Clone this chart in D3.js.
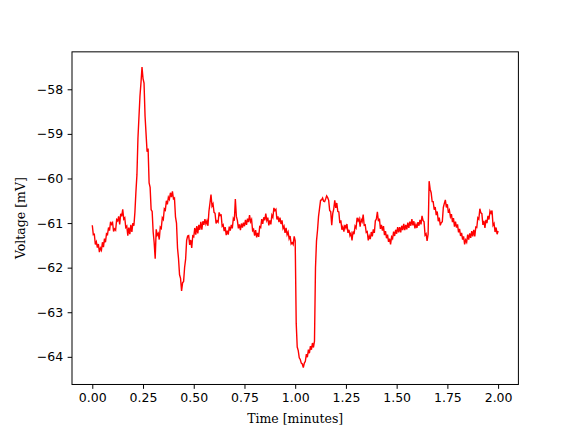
<!DOCTYPE html>
<html>
<head>
<meta charset="utf-8">
<script src="https://cdn.jsdelivr.net/npm/d3@7"></script>
<style>
  html, body { margin: 0; padding: 0; background: #fff; }
  svg { display: block; }
</style>
</head>
<body>
<svg id="chart" width="576" height="432"></svg>
<script>
// ---- data ----
const durationMinutes = 2;
const voltage = [
  -61.05, -61.26, -61.25, -61.48, -61.42, -61.55, -61.47, -61.65, -61.56, -61.61, -61.43,
  -61.54, -61.35, -61.43, -61.24, -61.26, -61.1, -61.17, -60.97, -61.03, -60.99,
  -61.19, -61.13, -61.16, -60.92, -60.95, -60.85, -61.03, -60.79, -60.85, -60.69,
  -60.91, -60.88, -61.1, -61.07, -61.28, -61.1, -61.25, -61.04, -61.2, -61.0, -61.06, -60.76,
  -60.3, -59.92, -59.1, -58.62, -58.15, -57.85, -57.5, -57.76,
  -57.86, -58.6, -59.0, -59.4, -59.33, -60.1, -60.2, -60.7, -60.74, -61.2,
  -61.44, -61.8, -61.14, -61.27, -61.23, -61.37, -61.09, -61.12, -60.88, -60.92,
  -60.68, -60.71, -60.5, -60.58, -60.42, -60.47, -60.32, -60.42, -60.29, -60.46,
  -60.44, -60.86, -61.0, -61.56, -61.8, -62.16, -62.24, -62.52, -62.34, -62.31,
  -61.99, -61.81, -61.39, -61.29, -61.28, -61.49, -61.38, -61.56, -61.29, -61.31,
  -61.11, -61.26, -61.07, -61.23, -61.04, -61.15, -60.97, -61.15, -60.96, -61.04,
  -60.91, -61.02, -60.95, -61.06, -60.73, -60.55, -60.36, -60.62, -60.57, -60.76,
  -60.78, -61.01, -60.95, -60.98, -60.76, -60.83, -60.82, -61.07, -61.04, -61.18,
  -61.09, -61.27, -61.17, -61.26, -61.08, -61.17, -61.04, -61.12, -60.9, -60.95,
  -60.46, -60.85, -60.94, -61.12, -61.03, -61.16, -61.01, -61.1, -60.99, -61.07,
  -60.93, -61.04, -60.9, -60.98, -60.82, -60.97, -60.92, -61.17, -61.14, -61.28,
  -61.16, -61.32, -61.22, -61.31, -61.08, -61.1, -60.91, -61.02, -60.87, -60.94,
  -60.79, -60.94, -60.88, -61.05, -60.94, -61.03, -60.82, -60.87, -60.66, -60.72,
  -60.69, -60.92, -60.85, -60.98, -60.88, -61.02, -60.94, -61.12, -61.07, -61.22,
  -61.11, -61.26, -61.2, -61.35, -61.29, -61.47, -61.44, -61.48, -61.3,
  -61.4, -63.25, -63.78, -63.86, -64.02, -64.06, -64.14, -64.16, -64.24, -64.14, -64.1,
  -63.94, -64.01, -63.84, -63.92, -63.76, -63.84, -63.69, -63.79, -63.65,
  -62.0, -61.4, -61.16, -60.85, -60.67, -60.49, -60.48, -60.44, -60.51, -60.52, -60.46,
  -60.39, -60.43, -60.49, -60.72, -60.74, -61.05, -60.79, -60.68, -60.49, -60.66,
  -60.55, -60.74, -60.75, -61.0, -60.94, -61.15, -61.08, -61.19, -61.04, -61.11,
  -61.02, -61.22, -61.15, -61.28, -61.23, -61.39, -61.19, -61.25, -61.07, -61.11,
  -60.88, -60.95, -60.9, -61.08, -60.92, -60.97, -60.81, -61.05, -61.04, -61.21,
  -61.19, -61.39, -61.29, -61.36, -61.2, -61.3, -61.14, -61.22, -60.95, -60.91,
  -60.75, -60.96, -60.9, -61.13, -61.04, -61.17, -61.07, -61.27, -61.18, -61.34,
  -61.26, -61.42, -61.35, -61.48, -61.31, -61.35, -61.19, -61.29, -61.15, -61.24,
  -61.09, -61.21, -61.09, -61.21, -61.06, -61.16, -61.02, -61.16, -61.04, -61.14,
  -60.99, -61.11, -60.97, -61.06, -60.91, -61.05, -60.96, -61.12, -61.03, -61.11,
  -60.98, -61.06, -60.93, -61.03, -60.84, -60.94, -60.97, -61.27, -61.24, -61.4, -61.25,
  -60.06, -60.24, -60.32, -60.52, -60.52, -60.7, -60.64, -60.82, -60.74,
  -60.96, -60.88, -61.05, -60.99, -60.97, -60.65, -60.56, -60.48, -60.65, -60.58,
  -60.77, -60.71, -60.86, -60.8, -60.98, -60.89, -61.08, -60.97, -61.1, -61.03,
  -61.21, -61.13, -61.29, -61.22, -61.37, -61.3, -61.48, -61.38, -61.43, -61.26,
  -61.37, -61.23, -61.33, -61.18, -61.3, -61.15, -61.3, -61.09, -61.1, -60.88,
  -60.91, -60.68, -60.77, -60.79, -61.04, -60.95, -61.11, -60.93, -61.0, -60.84,
  -60.92, -60.73, -60.78, -60.72, -61.05, -61.01, -61.2, -61.1, -61.25, -61.18
];
const xTicks = [0, 0.25, 0.5, 0.75, 1.0, 1.25, 1.5, 1.75, 2.0];
const yTicks = [-64, -63, -62, -61, -60, -59, -58];
const xDomain = [-0.1, 2.1];
const yDomain = [-64.62, -57.16];

// ---- layout ----
const W = 576, H = 432;
const plotL = 72, plotR = 518.4, plotT = 51.84, plotB = 384.48;
const fontPx = 12.5;

const svg = d3.select("#chart");
const x = d3.scaleLinear().domain(xDomain).range([plotL, plotR]);
const y = d3.scaleLinear().domain(yDomain).range([plotB, plotT]);

const step = durationMinutes / (voltage.length - 1);
const series = voltage.map((v, i) => ({ t: i * step, v }));

svg.append("rect").attr("width", W).attr("height", H).attr("fill", "#fff");

svg.append("clipPath").attr("id", "clip")
  .append("rect").attr("x", plotL).attr("y", plotT)
  .attr("width", plotR - plotL).attr("height", plotB - plotT);

svg.append("path")
  .datum(series)
  .attr("clip-path", "url(#clip)")
  .attr("fill", "none")
  .attr("stroke", "#ff0000")
  .attr("stroke-width", 1.4)
  .attr("d", d3.line().x(d => x(d.t)).y(d => y(d.v)));

const fmtMinus = s => s.replace("-", "\u2212");

const xAxis = svg.append("g")
  .attr("transform", `translate(0,${plotB})`)
  .call(d3.axisBottom(x).tickValues(xTicks).tickFormat(d => fmtMinus(d3.format(".2f")(d)))
    .tickSize(4.375).tickPadding(4.375));
const yAxis = svg.append("g")
  .attr("transform", `translate(${plotL},0)`)
  .call(d3.axisLeft(y).tickValues(yTicks).tickFormat(d => fmtMinus(d3.format("d")(d)))
    .tickSize(4.375).tickPadding(4.375));

[xAxis, yAxis].forEach(g => {
  g.select(".domain").remove();
  g.selectAll(".tick line").attr("stroke", "#000").attr("stroke-width", 1);
  g.selectAll(".tick text")
    .attr("fill", "#000")
    .style("font-family", "'DejaVu Sans', sans-serif")
    .style("font-size", fontPx + "px");
});

svg.append("rect")
  .attr("x", plotL).attr("y", plotT)
  .attr("width", plotR - plotL).attr("height", plotB - plotT)
  .attr("fill", "none").attr("stroke", "#000").attr("stroke-width", 1);

svg.append("text")
  .attr("x", (plotL + plotR) / 2).attr("y", 422.5)
  .attr("text-anchor", "middle")
  .style("font-family", "'DejaVu Serif', serif")
  .style("font-size", fontPx + "px")
  .attr("fill", "#000")
  .text("Time [minutes]");

svg.append("text")
  .attr("transform", `translate(25,${(plotT + plotB) / 2}) rotate(-90)`)
  .attr("text-anchor", "middle")
  .style("font-family", "'DejaVu Serif', serif")
  .style("font-size", fontPx + "px")
  .attr("fill", "#000")
  .text("Voltage [mV]");
</script>
</body>
</html>
